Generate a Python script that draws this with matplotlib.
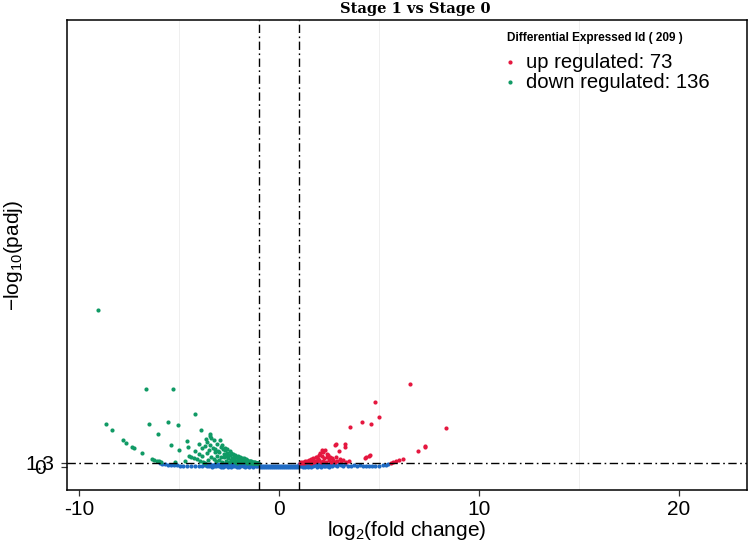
import matplotlib
matplotlib.use("Agg")
import matplotlib.pyplot as plt
from matplotlib.lines import Line2D

plt.rcParams['font.family'] = ['Liberation Sans', 'DejaVu Sans']
plt.rcParams['mathtext.default'] = 'regular'

# ---------------- data ----------------
up_x = [6.53, 4.78, 4.98, 4.15, 4.58, 3.55, 8.34, 2.84, 2.79, 3.30, 3.28, 2.99, 7.31, 7.28, 6.95,
        4.36, 4.48, 4.53, 4.31, 5.86, 6.02, 6.18, 5.72, 5.60,
        1.05, 1.10, 1.15, 1.20, 1.25, 1.30, 1.35, 1.40, 1.45, 1.50, 1.55, 1.58, 1.62, 1.66, 1.70,
        1.72, 1.76, 1.80, 1.84, 1.88, 1.90, 1.94, 1.98, 2.02, 2.05, 2.08, 2.13, 2.16, 2.20, 2.22,
        2.26, 2.30, 2.34, 2.38, 2.42, 2.47, 2.50, 2.55, 2.60, 2.65, 2.72, 2.78, 2.85, 2.92, 3.05,
        3.12, 3.20, 3.35, 3.50]
up_y = [27.1, 21.0, 16.1, 14.6, 14.1, 13.1, 12.7, 7.6, 7.1, 7.6, 6.5, 5.1, 6.8, 6.5, 5.2,
        3.2, 3.6, 3.8, 2.8, 1.9, 2.2, 2.5, 1.6, 1.45,
        1.35, 1.5, 1.4, 1.6, 1.45, 1.8, 1.5, 2.0, 1.6, 2.3, 1.9, 1.4, 2.6, 1.7, 3.0,
        2.4, 1.5, 2.1, 3.4, 3.2, 1.8, 2.7, 3.9, 2.3, 4.4, 1.6, 5.4, 3.5, 2.0, 4.9,
        2.8, 5.4, 1.5, 3.1, 4.3, 3.8, 2.4, 3.2, 1.7, 2.9, 2.2, 1.6, 3.3, 2.0, 2.7,
        1.8, 2.3, 1.6, 1.9]

down_x = [-9.05, -6.67, -5.31, -8.64, -8.36, -6.50, -5.56, -5.04, -6.04, -4.18, -7.78, -7.65,
          -7.33, -7.25, -6.87, -5.39, -5.01, -6.37, -6.25, -6.12, -6.00, -5.88, -3.88, -3.47,
          -3.43, -4.59, -4.56, -4.48, -4.39, -3.98, -3.86, -4.01,
          -4.25, -4.10, -3.95, -3.80, -3.70, -4.70, -5.20, -3.85, -4.20,
          -3.72, -3.65, -3.60, -3.58, -3.55, -3.50, -3.45, -3.40, -3.38, -3.32,
          -3.27, -3.25, -3.22, -3.18, -3.15, -3.10, -3.08, -3.05, -3.02, -2.98,
          -2.95, -2.92, -2.90, -2.86, -2.84, -2.80, -2.77, -2.75, -2.72, -2.69,
          -2.66, -2.63, -2.60, -2.58, -2.55, -2.52, -2.50, -2.47, -2.44, -2.42,
          -2.40, -2.37, -2.35, -2.32, -2.30, -2.27, -2.25, -2.22, -2.20, -2.17,
          -2.15, -2.12, -2.10, -2.07, -2.05, -2.02, -2.00, -1.97, -1.95, -1.94,
          -1.90, -1.88, -1.85, -1.82, -1.80, -1.78, -1.75, -1.72, -1.70, -1.67,
          -1.65, -1.62, -1.61, -1.58, -1.55, -1.52, -1.50, -1.47, -1.45, -1.42,
          -1.40, -1.37, -1.35, -1.32, -1.30, -1.27, -1.25, -1.22, -1.20, -1.17,
          -1.15, -1.12, -1.10, -1.07, -1.05]
down_y = [50.8, 25.2, 25.2, 14.1, 12.1, 14.1, 14.7, 13.6, 10.8, 17.1, 8.7, 7.9,
          6.5, 6.1, 4.5, 7.3, 5.4, 2.7, 2.4, 2.0, 1.8, 1.5, 11.9, 10.8,
          10.1, 8.4, 6.5, 3.6, 3.2, 7.6, 6.2, 4.1,
          2.9, 2.6, 2.0, 1.6, 1.4, 1.9, 1.6, 3.6, 5.3,
          6.8, 9.0, 8.1, 4.6, 2.2, 5.5, 7.3, 3.4, 9.4, 6.1,
          8.7, 2.6, 4.8, 6.0, 1.9, 7.6, 3.7, 5.2, 4.9, 2.4,
          8.7, 6.6, 3.1, 7.0, 1.6, 5.8, 3.2, 4.3, 6.3, 5.4,
          2.1, 3.7, 4.4, 5.9, 2.8, 1.5, 4.0, 5.1, 3.8, 2.3,
          4.7, 3.0, 1.8, 4.2, 2.6, 2.7, 3.5, 1.6, 4.0, 2.1,
          3.1, 1.4, 3.2, 2.5, 3.7, 1.9, 2.9, 1.5, 3.3, 2.2,
          2.6, 1.7, 3.0, 2.0, 2.5, 1.6, 2.8, 1.9, 2.3, 1.5,
          2.6, 2.0, 1.3, 2.3, 1.7, 2.1, 1.5, 1.9, 1.4, 1.8,
          1.6, 1.4, 1.7, 1.5, 1.4, 1.6, 1.35, 1.5, 1.4, 1.45,
          1.35, 1.4, 1.35, 1.38, 1.32]

ns_x = [-5.95, -5.85, -5.70, -5.55, -5.40, -5.25, -5.10, -4.95, -4.80, -4.60, -4.40, -4.20,
        -4.00, -3.85, -3.75, -3.70, -3.65, -3.60,
        -3.55, -3.50, -3.45, -3.40, -3.35, -3.30, -3.25, -3.20, -3.15, -3.10, -3.05, -3.00,
        -2.95, -2.90, -2.85, -2.80, -2.75, -2.70, -2.65, -2.60, -2.55, -2.50, -2.45, -2.40,
        -2.35, -2.30, -2.25, -2.20, -2.15, -2.10, -2.05, -2.00, -1.95, -1.90, -1.85, -1.80,
        -1.75, -1.70, -1.65, -1.60, -1.55, -1.50, -1.45, -1.40, -1.35, -1.30, -1.25, -1.20,
        -1.15, -1.10, -1.05, -1.00,
        -2.98, -2.88, -2.78, -2.68, -2.58, -2.48, -2.38, -2.28, -2.18, -2.08, -1.98, -1.88,
        -1.78, -1.68, -1.58, -1.48, -1.38, -1.28, -1.18, -1.08, -1.52, -1.32, -1.12, -2.22, -1.72,
        -0.95, -0.85, -0.75, -0.65, -0.55, -0.45, -0.35, -0.25, -0.15, -0.05,
        0.05, 0.15, 0.25, 0.35, 0.45, 0.55, 0.65, 0.75, 0.85, 0.95,
        -0.90, -0.80, -0.70, -0.60, -0.50, -0.40, -0.30, -0.20, -0.10, 0.00,
        0.10, 0.20, 0.30, 0.40, 0.50, 0.60, 0.70, 0.80, 0.90, 1.00,
        1.00, 1.05, 1.10, 1.15, 1.20, 1.25, 1.30, 1.35, 1.40, 1.45, 1.50, 1.55, 1.60, 1.65,
        1.70, 1.75, 1.80, 1.85, 1.90, 1.95, 2.00, 2.05, 2.10, 2.15, 2.20, 2.25, 2.30, 2.35,
        2.40, 2.45, 2.50, 2.55, 2.60, 2.65, 2.70, 2.80, 2.90, 3.00, 3.10, 3.20, 3.30, 3.45,
        3.60, 3.75, 1.12, 1.32, 1.52, 1.72, 1.92, 2.12, 2.32, 1.62, 1.42, 1.22,
        3.90, 4.05, 4.20, 4.35, 4.50, 4.65, 4.80, 5.00, 5.20, 5.35, 5.47]
ns_y = [1.25, 1.1, 0.95, 0.8, 0.7, 0.6, 0.5, 0.4, 0.35, 0.3, 0.25, 0.3,
        0.25, 0.35, 0.9, 0.5, 1.1, 0.2,
        0.7, 0.3, 1.0, 0.5, 0.15, 0.8, 0.4, 1.1, 0.2, 0.6, 0.95, 0.3,
        0.7, 0.1, 1.15, 0.5, 0.85, 0.25, 1.0, 0.6, 0.15, 0.9, 0.4, 1.2,
        0.7, 0.2, 1.0, 0.5, 0.8, 0.1, 1.1, 0.6, 0.3, 0.9, 0.5, 1.15,
        0.2, 0.75, 1.0, 0.4, 0.9, 0.1, 0.6, 1.1, 0.3, 0.8, 1.0, 0.5,
        0.2, 0.9, 0.6, 1.1,
        0.55, 0.35, 0.05, 0.55, 0.95, 0.25, 0.05, 0.55, 0.3, 0.85, 0.05, 1.2,
        0.45, 0.1, 0.65, 1.05, 0.5, 0.1, 0.75, 0.3, 1.2, 1.2, 1.2, 1.2, 1.25,
        0.0, 0.05, 0.0, 0.05, 0.0, 0.05, 0.0, 0.05, 0.0, 0.05,
        0.05, 0.0, 0.05, 0.0, 0.05, 0.0, 0.05, 0.0, 0.05, 0.0,
        0.45, 0.4, 0.45, 0.4, 0.45, 0.4, 0.45, 0.4, 0.45, 0.4,
        0.45, 0.4, 0.45, 0.4, 0.45, 0.4, 0.45, 0.4, 0.45, 0.4,
        1.1, 0.5, 0.9, 0.2, 1.0, 0.6, 0.3, 1.15, 0.7, 0.1, 0.9, 0.4, 1.1, 0.6,
        0.2, 1.0, 0.5, 0.8, 0.1, 1.1, 0.6, 0.3, 0.9, 0.5, 1.15, 0.2, 0.7, 1.0,
        0.4, 0.8, 0.15, 1.0, 0.5, 0.3, 0.9, 0.6, 0.2, 1.0, 0.5, 0.3, 0.9, 0.4,
        0.2, 0.6, 0.45, 0.05, 0.65, 1.2, 0.4, 0.05, 0.4, 0.0, 0.4, 0.05,
        0.3, 0.5, 0.2, 0.4, 0.3, 0.25, 0.35, 0.4, 0.55, 0.8, 1.1]

fc_cut = 1.0
padj_cut = 1.3
x_ticks = [-10, 0, 10, 20]
y_ticks = [0, 1.3]
y_tick_labels = ['0', '1.3']

c_up = '#E5173F'
c_down = '#109A65'
c_ns = '#1F6BC4'

# ---------------- figure ----------------
fig = plt.figure(figsize=(7.48, 5.41), dpi=100)
ax = fig.add_axes([67/748, 51/541, 680/748, 470/541])

ax.set_xlim(-10.6, 23.4)
ax.set_ylim(-7.47, 145.1)

for gx in [-5, 5, 15]:
    ax.axvline(gx, color='#EDEDED', lw=0.6, zorder=0)

ms = 9
ax.scatter(ns_x, ns_y, s=ms, c=c_ns, linewidths=0, zorder=2)
ax.scatter(down_x, down_y, s=ms, c=c_down, linewidths=0, zorder=3)
ax.scatter(up_x, up_y, s=ms, c=c_up, linewidths=0, zorder=3)

dash = (0, (6, 2.5, 1.2, 2.5))
ax.axvline(-fc_cut, color='black', lw=1.0, linestyle=dash, zorder=4)
ax.axvline(fc_cut, color='black', lw=1.0, linestyle=dash, zorder=4)
ax.axhline(padj_cut, color='black', lw=1.0, linestyle=dash, zorder=4)

for sp in ax.spines.values():
    sp.set_linewidth(1.1)
    sp.set_color('black')

ax.set_xticks(x_ticks)
ax.set_xticklabels([str(t) for t in x_ticks], fontsize=15)
ax.set_yticks(y_ticks)
ax.set_yticklabels(y_tick_labels, fontsize=15)
ax.tick_params(axis='both', direction='out', length=4.5, width=0.9, color='#333333')
ax.tick_params(axis='x', pad=3)
ax.tick_params(axis='y', pad=15)
for lab in ax.get_yticklabels():
    lab.set_ha('center')

ax.set_xlabel('log$_2$(fold change)', fontsize=15, labelpad=0)
ax.set_ylabel('$-$log$_{10}$(padj)', fontsize=15)
ax.yaxis.set_label_coords(-42/680, 0.5)

fig.text(415/748, 1 - 9/541, 'Stage 1 vs Stage 0', ha='center', va='center',
         fontsize=10.5, fontweight='bold', family='DejaVu Serif')

# legend (manual)
fig.text(595/748, 1 - 38/541, 'Differential Expressed Id ( 209 )', ha='center', va='center',
         fontsize=8.5, fontweight='bold', family='Liberation Sans')
leg_labels = ['up regulated: 73', 'down regulated: 136']
leg_colors = [c_up, c_down]
for i, (lab, col) in enumerate(zip(leg_labels, leg_colors)):
    ypx = 62 + 20 * i
    fig.add_artist(Line2D([510/748], [1 - ypx/541], marker='o', markersize=2.0,
                          color=col, linestyle='none', transform=fig.transFigure))
    fig.text(526/748, 1 - (ypx + 1)/541, lab, ha='left', va='center', fontsize=14.6,
             family='Liberation Sans')

fig.savefig('out.png', dpi=100)
